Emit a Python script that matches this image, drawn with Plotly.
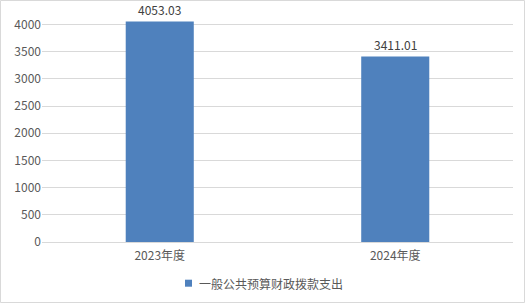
import plotly.graph_objects as go

categories = ["2023年度", "2024年度"]
values = [4053.03, 3411.01]
labels = ["4053.03", "3411.01"]
series_name = "一般公共预算财政拨款支出"
bar_color = "#4f81bd"

W, H = 526, 304
ml, mr, mt, mb = 42, 13, 21, 62
ymax = 4064.4
pw = W - ml - mr
ph = H - mt - mb


def px_x(px):
    return (px - ml) / pw


def px_y(py):
    return (H - mb - py) / ph


fig = go.Figure()
fig.add_trace(go.Bar(
    x=categories, y=values, name=series_name,
    marker=dict(color=bar_color, line=dict(width=0)),
    showlegend=False,
))

annotations = [
    dict(x=c, y=v, xref="x", yref="y", text=t, showarrow=False,
         yanchor="bottom", yshift=2,
         font=dict(color="#404040", size=12, family="Noto Sans CJK SC"))
    for c, v, t in zip(categories, values, labels)
]
annotations.append(dict(
    x=px_x(196.5), y=px_y(283), xref="paper", yref="paper", text=series_name,
    showarrow=False, xanchor="left", yanchor="middle",
    font=dict(color="#595959", size=12, family="Noto Sans CJK SC")))

fig.update_layout(
    width=W, height=H,
    margin=dict(l=ml, r=mr, t=mt, b=mb, autoexpand=False),
    paper_bgcolor="white", plot_bgcolor="white",
    font=dict(family="Noto Sans CJK SC", color="#595959", size=12),
    bargap=0.711,
    showlegend=False,
    yaxis=dict(range=[0, ymax], tickvals=[0, 500, 1000, 1500, 2000, 2500, 3000, 3500, 4000],
               showgrid=True, gridcolor="#d9d9d9",
               gridwidth=1, zeroline=False, showline=False, ticks="",
               tickfont=dict(size=12, color="#595959")),
    xaxis=dict(showline=True, linecolor="#d9d9d9", linewidth=1, ticks="",
               ticklabelstandoff=3,
               tickfont=dict(size=12, color="#595959")),
    annotations=annotations,
    shapes=[
        dict(type="rect", xref="paper", yref="paper",
             x0=px_x(0.5), x1=px_x(W - 1.5), y0=px_y(H - 1.5), y1=px_y(0.5),
             line=dict(color="#d9d9d9", width=1), layer="below"),
        dict(type="rect", xref="paper", yref="paper",
             x0=px_x(185), x1=px_x(192), y0=px_y(286.7), y1=px_y(279.7),
             fillcolor=bar_color, line=dict(width=0)),
    ],
)

fig.write_html("out.html")
